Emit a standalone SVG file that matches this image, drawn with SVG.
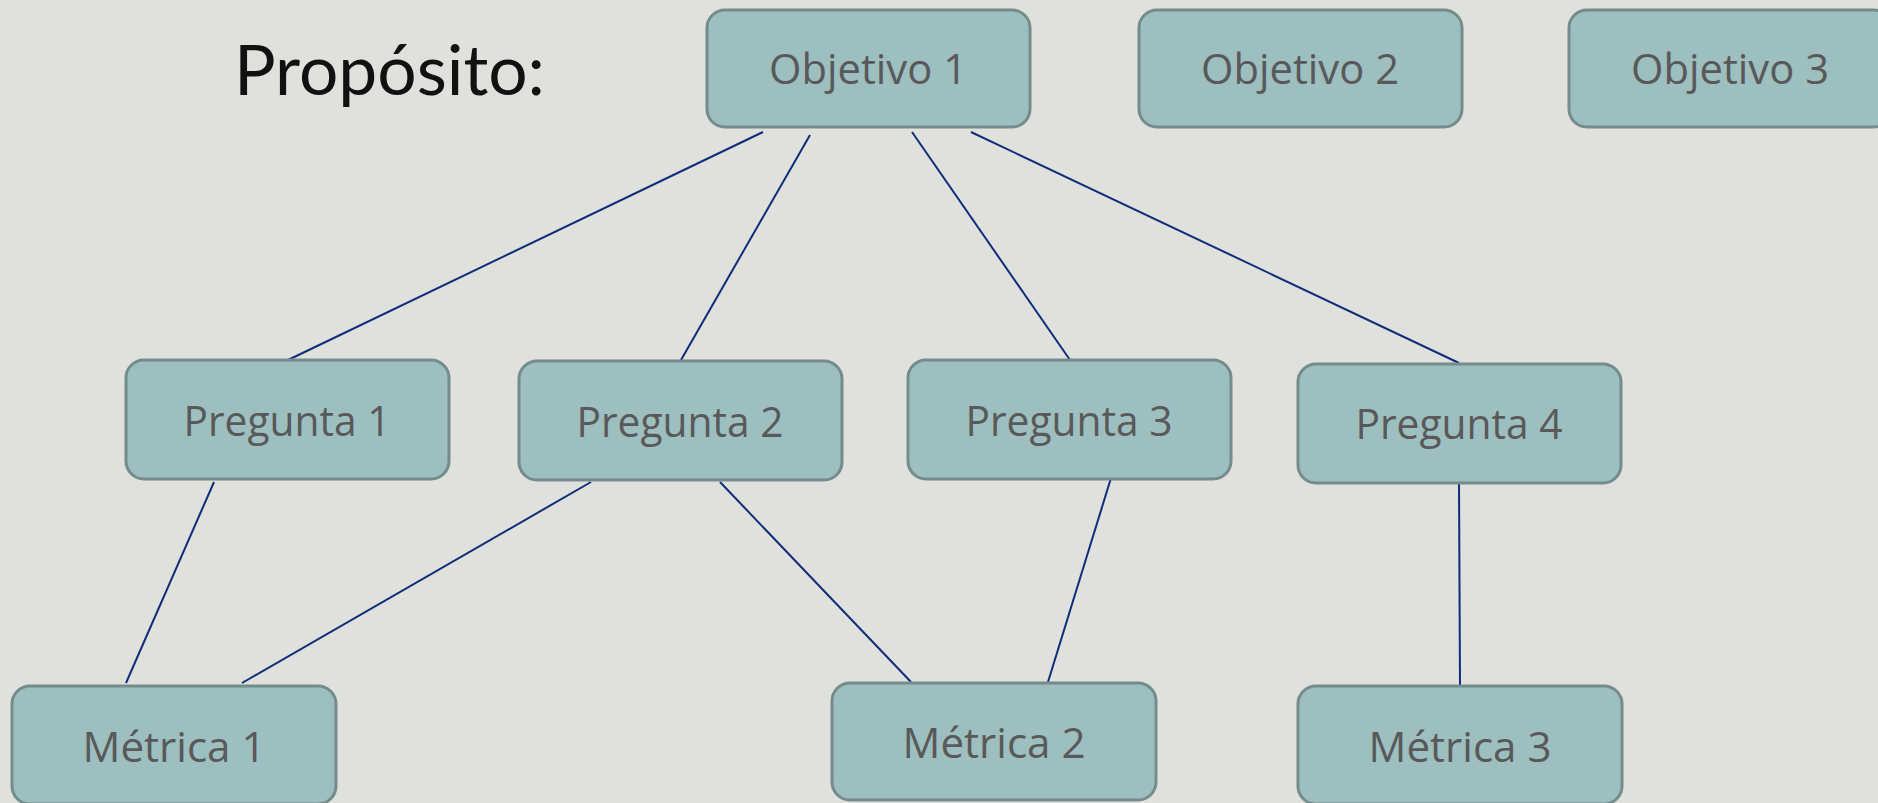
<svg xmlns="http://www.w3.org/2000/svg" width="1878" height="803" viewBox="0 0 1878 803">
<defs>
<style>
.box{fill:#9DBFBF;stroke:#748C8B;stroke-width:3}
.lbl{font-family:"Open Sans","Noto Sans",sans-serif;font-size:42px;fill:#595959;text-anchor:middle}
.con line{stroke:#0E2D7A;stroke-width:2;fill:none}
.title{font-family:Lato,"Noto Sans",sans-serif;font-size:70px;font-weight:400;fill:#111111}
</style>
</defs>
<rect x="0" y="0" width="1878" height="803" fill="#E0E1DC"/>
<text class="title" x="234" y="95" textLength="311" lengthAdjust="spacingAndGlyphs">Propósito:</text>
<g class="con">
<line x1="763" y1="132" x2="288" y2="360"/>
<line x1="810" y1="135" x2="681" y2="360"/>
<line x1="912" y1="132" x2="1070" y2="360"/>
<line x1="971" y1="132" x2="1459" y2="363"/>
<line x1="214" y1="482" x2="126" y2="683"/>
<line x1="591" y1="482" x2="242" y2="683"/>
<line x1="720" y1="482" x2="911" y2="682"/>
<line x1="1111" y1="478" x2="1048" y2="682"/>
<line x1="1459" y1="483" x2="1460" y2="686"/>
</g>
<g id="objetivo1"><rect class="box" x="707" y="10" width="323" height="117" rx="18"/><text class="lbl" x="868" y="84" textLength="198" lengthAdjust="spacingAndGlyphs">Objetivo 1</text></g>
<g id="objetivo2"><rect class="box" x="1139" y="10" width="323" height="117" rx="18"/><text class="lbl" x="1300" y="84" textLength="198" lengthAdjust="spacingAndGlyphs">Objetivo 2</text></g>
<g id="objetivo3"><rect class="box" x="1569" y="10" width="323" height="117" rx="18"/><text class="lbl" x="1730" y="84" textLength="198" lengthAdjust="spacingAndGlyphs">Objetivo 3</text></g>
<g id="pregunta1"><rect class="box" x="126" y="360" width="323" height="119" rx="18"/><text class="lbl" x="287" y="436" textLength="207" lengthAdjust="spacingAndGlyphs">Pregunta 1</text></g>
<g id="pregunta2"><rect class="box" x="519" y="361" width="323" height="119" rx="18"/><text class="lbl" x="680" y="437" textLength="207" lengthAdjust="spacingAndGlyphs">Pregunta 2</text></g>
<g id="pregunta3"><rect class="box" x="908" y="360" width="323" height="119" rx="18"/><text class="lbl" x="1069" y="436" textLength="207" lengthAdjust="spacingAndGlyphs">Pregunta 3</text></g>
<g id="pregunta4"><rect class="box" x="1298" y="364" width="323" height="119" rx="18"/><text class="lbl" x="1459" y="439" textLength="207" lengthAdjust="spacingAndGlyphs">Pregunta 4</text></g>
<g id="metrica1"><rect class="box" x="12" y="686" width="324" height="118" rx="18"/><text class="lbl" x="174" y="762" textLength="183" lengthAdjust="spacingAndGlyphs">Métrica 1</text></g>
<g id="metrica2"><rect class="box" x="832" y="683" width="324" height="117" rx="18"/><text class="lbl" x="994" y="758" textLength="183" lengthAdjust="spacingAndGlyphs">Métrica 2</text></g>
<g id="metrica3"><rect class="box" x="1298" y="686" width="324" height="118" rx="18"/><text class="lbl" x="1460" y="762" textLength="183" lengthAdjust="spacingAndGlyphs">Métrica 3</text></g>
</svg>
